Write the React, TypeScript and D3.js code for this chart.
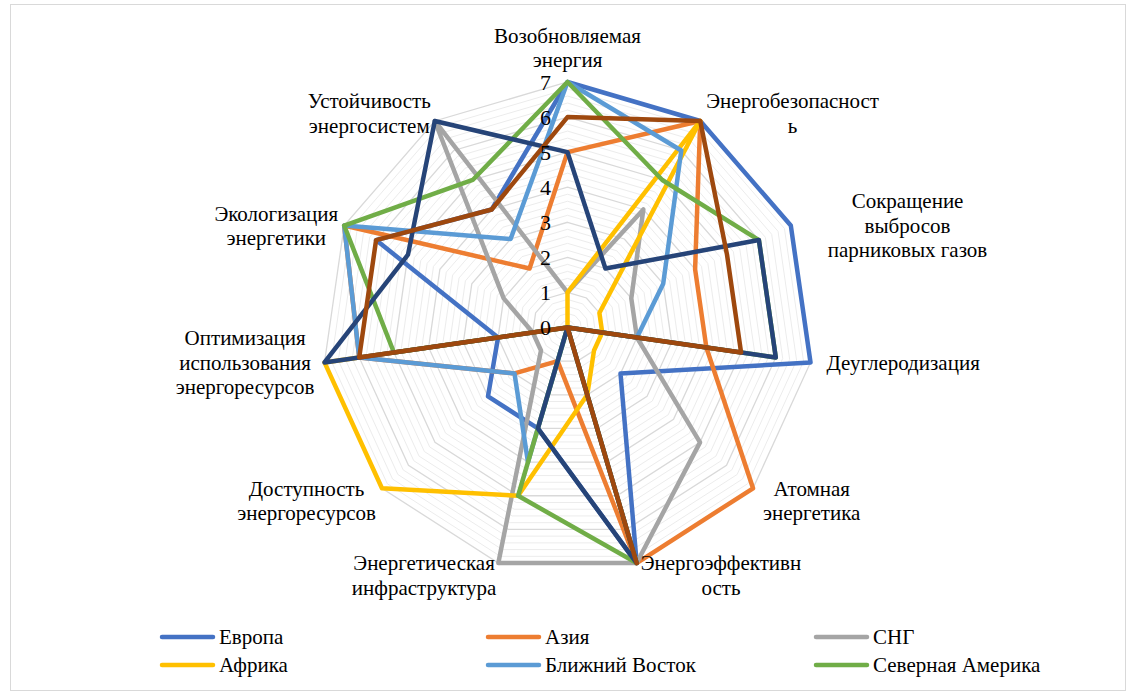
import React, { useEffect, useRef } from "react";
import * as d3 from "d3";

// axes, clockwise from the top
const categories = [
  "Возобновляемая энергия",
  "Энергобезопасность",
  "Сокращение выбросов парниковых газов",
  "Деуглеродизация",
  "Атомная энергетика",
  "Энергоэффективность",
  "Энергетическая инфраструктура",
  "Доступность энергоресурсов",
  "Оптимизация использования энергоресурсов",
  "Экологизация энергетики",
  "Устойчивость энергосистем",
];

// the way the labels wrap in the picture
const labelLines = [
  ["Возобновляемая", "энергия"],
  ["Энергобезопасност", "ь"],
  ["Сокращение", "выбросов", "парниковых газов"],
  ["Деуглеродизация"],
  ["Атомная", "энергетика"],
  ["Энергоэффективн", "ость"],
  ["Энергетическая", "инфраструктура"],
  ["Доступность", "энергоресурсов"],
  ["Оптимизация", "использования", "энергоресурсов"],
  ["Экологизация", "энергетики"],
  ["Устойчивость", "энергосистем"],
];

const seriesNames = [
  "Европа",
  "Азия",
  "СНГ",
  "Африка",
  "Ближний Восток",
  "Северная Америка",
  "Ряд 7",
  "Ряд 8",
];

const europe = [7, 7, 7, 7, 2, 7, 3, 3, 2, 6, 4];
const asia = [5, 7, 4, 4, 7, 7, 1, 2, 6, 7, 2];
const cis = [1, 4, 2, 2, 5, 7, 7, 1, 1, 2, 7];
const africa = [1, 7, 1, 1, 1, 2, 5, 7, 7, 0, 0];
const middleEast = [7, 6, 3, 2, 0, 0, 4, 2, 6, 7, 3];
const northAmerica = [7, 5, 6, 6, 0, 7, 5, 0, 5, 7, 5];
const series7 = [5, 2, 6, 6, 0, 7, 3, 0, 7, 5, 7];
const series8 = [6, 7, 5, 5, 0, 7, 0, 0, 6, 6, 4];

const seriesValues = [europe, asia, cis, africa, middleEast, northAmerica, series7, series8];
const colors = ["#4472C4", "#ED7D31", "#A5A5A5", "#FFC000", "#5B9BD5", "#70AD47", "#264478", "#9E480E"];
const legendCount = 6; // only six entries fit in the legend

const tickValues = [0, 1, 2, 3, 4, 5, 6, 7];

const FONT = '"Liberation Serif", "DejaVu Serif", serif';

const App: React.FC = () => {
  const ref = useRef<SVGSVGElement | null>(null);

  useEffect(() => {
    const W = 1132;
    const H = 695;
    const cx = 567.5;
    const cy = 327.5;
    const R = 245.5;
    const n = categories.length;
    const fontSize = 21;
    const lineH = 24.5;

    const svg = d3.select(ref.current).attr("width", W).attr("height", H);
    svg.selectAll("*").remove();

    svg
      .append("rect")
      .attr("x", 10.5)
      .attr("y", 4.5)
      .attr("width", 1115)
      .attr("height", 686)
      .attr("fill", "#fff")
      .attr("stroke", "#d9d9d9");

    const r = d3.scaleLinear().domain([0, 7]).range([0, R]);
    const angle = d3
      .scaleLinear()
      .domain([0, n])
      .range([0, 2 * Math.PI]);
    const idx = d3.range(n);

    const g = svg.append("g").attr("transform", `translate(${cx},${cy})`);

    // rings: minor every 0.2, major every 1
    const ringLine = (v: number) =>
      d3
        .lineRadial<number>()
        .angle((i) => angle(i))
        .radius(() => r(v))
        .curve(d3.curveLinearClosed)(idx);

    const minor = d3.range(1, 35).map((k) => k / 5).filter((v) => Math.abs(v - Math.round(v)) > 1e-6);
    g.append("g")
      .selectAll("path")
      .data(minor)
      .enter()
      .append("path")
      .attr("d", (v) => ringLine(v))
      .attr("fill", "none")
      .attr("stroke", "#ececec")
      .attr("stroke-width", 1);

    g.append("g")
      .selectAll("path")
      .data(tickValues.filter((v) => v > 0))
      .enter()
      .append("path")
      .attr("d", (v) => ringLine(v))
      .attr("fill", "none")
      .attr("stroke", "#d9d9d9")
      .attr("stroke-width", 1.3);

    // series
    const seriesLine = d3
      .lineRadial<number>()
      .angle((_, i) => angle(i))
      .radius((d) => r(d))
      .curve(d3.curveLinearClosed);

    g.append("g")
      .selectAll("path")
      .data(seriesValues)
      .enter()
      .append("path")
      .attr("d", (d) => seriesLine(d))
      .attr("fill", "none")
      .attr("stroke", (_, i) => colors[i])
      .attr("stroke-width", 4.5)
      .attr("stroke-linejoin", "round");

    // value ticks
    g.append("g")
      .selectAll("text")
      .data(tickValues)
      .enter()
      .append("text")
      .attr("x", -22)
      .attr("y", (v) => -r(v))
      .attr("dy", "0.35em")
      .attr("text-anchor", "middle")
      .style("font-family", FONT)
      .style("font-size", "22px")
      .attr("fill", "#000")
      .text((v) => String(v));

    // category labels
    const ctx = document.createElement("canvas").getContext("2d")!;
    ctx.font = `${fontSize}px "Liberation Serif"`;
    const gaps = [0, 6, 37, 16, 10, 4, 2, 6, 10, 6, 4];

    const labels = svg.append("g");
    labelLines.forEach((lines, i) => {
      const a = angle(i);
      const px = cx + r(7) * Math.sin(a);
      const py = cy - r(7) * Math.cos(a);
      const bw = d3.max(lines, (s) => ctx.measureText(s).width) || 0;
      const bh = lines.length * lineH;
      let mx: number;
      let top: number;
      if (i === 0) {
        mx = px;
        top = py - 10 - bh;
      } else {
        const side = Math.sin(a) > 0 ? 1 : -1;
        mx = px + side * (gaps[i] + bw / 2);
        if (py < cy - 150) top = py - 8 - bh / 2;
        else if (py < cy + 100) top = py - bh / 2;
        else top = py - lineH / 2;
      }
      const t = labels
        .append("text")
        .style("font-family", FONT)
        .style("font-size", `${fontSize}px`)
        .attr("fill", "#000")
        .attr("text-anchor", "middle");
      lines.forEach((s, k) => {
        t.append("tspan")
          .attr("x", mx)
          .attr("y", top + lineH * k + lineH / 2)
          .attr("dy", "0.35em")
          .text(s);
      });
    });

    // legend
    const colX = [160, 486, 814];
    const rowY = [637, 665];
    const legend = svg.append("g");
    seriesNames.slice(0, legendCount).forEach((name, i) => {
      const x = colX[i % 3];
      const y = rowY[Math.floor(i / 3)];
      legend
        .append("line")
        .attr("x1", x + 2)
        .attr("x2", x + 53)
        .attr("y1", y)
        .attr("y2", y)
        .attr("stroke", colors[i])
        .attr("stroke-width", 4.5)
        .attr("stroke-linecap", "round");
      legend
        .append("text")
        .attr("x", x + 59)
        .attr("y", y)
        .attr("dy", "0.35em")
        .style("font-family", FONT)
        .style("font-size", `${fontSize}px`)
        .attr("fill", "#000")
        .text(name);
    });
  }, []);

  return <svg ref={ref} style={{ position: "absolute", left: 0, top: 0 }} />;
};

export default App;
